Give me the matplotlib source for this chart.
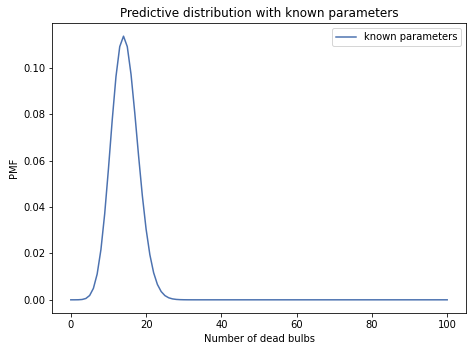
import matplotlib
matplotlib.use("Agg")
import matplotlib.pyplot as plt

ks = list(range(0, 101))
pmf_head = [
    0.0000002, 0.0000031, 0.000026, 0.0001425, 0.000579, 0.001862, 0.004938,
    0.01111, 0.02163, 0.03705, 0.05648, 0.07743, 0.09621, 0.10911, 0.1136,
    0.10912, 0.09713, 0.08041, 0.06212, 0.04492, 0.03048, 0.01945, 0.01170,
    0.006649, 0.003574, 0.001820, 0.000880, 0.000404, 0.000176, 0.0000734,
    0.0000291,
]
pmf_tail = [
    0.000011, 0.000004, 0.0000014, 0.00000045, 0.0, 0.0, 0.0, 0.0, 0.0, 0.0,
    0.0, 0.0, 0.0, 0.0, 0.0, 0.0, 0.0, 0.0, 0.0, 0.0,
    0.0, 0.0, 0.0, 0.0, 0.0, 0.0, 0.0, 0.0, 0.0, 0.0,
    0.0, 0.0, 0.0, 0.0, 0.0, 0.0, 0.0, 0.0, 0.0, 0.0,
    0.0, 0.0, 0.0, 0.0, 0.0, 0.0, 0.0, 0.0, 0.0, 0.0,
    0.0, 0.0, 0.0, 0.0, 0.0, 0.0, 0.0, 0.0, 0.0, 0.0,
    0.0, 0.0, 0.0, 0.0, 0.0, 0.0, 0.0, 0.0, 0.0, 0.0,
]
pmf = pmf_head + pmf_tail

fig = plt.figure(figsize=(472 / 72, 352 / 72), dpi=72)
ax = fig.add_axes([52 / 472, 1 - 313 / 352, (466 - 52) / 472, (313 - 23) / 352])
ax.plot(ks, pmf, color="#4c72b0", lw=1.5, label="known parameters")
ax.set_xlabel("Number of dead bulbs")
ax.set_ylabel("PMF")
ax.set_title("Predictive distribution with known parameters")
ax.legend(loc="upper right")
ax.set_xticks([0, 20, 40, 60, 80, 100])
ax.set_yticks([0.0, 0.02, 0.04, 0.06, 0.08, 0.10])
fig.savefig("out.png", dpi=72, facecolor="white")
